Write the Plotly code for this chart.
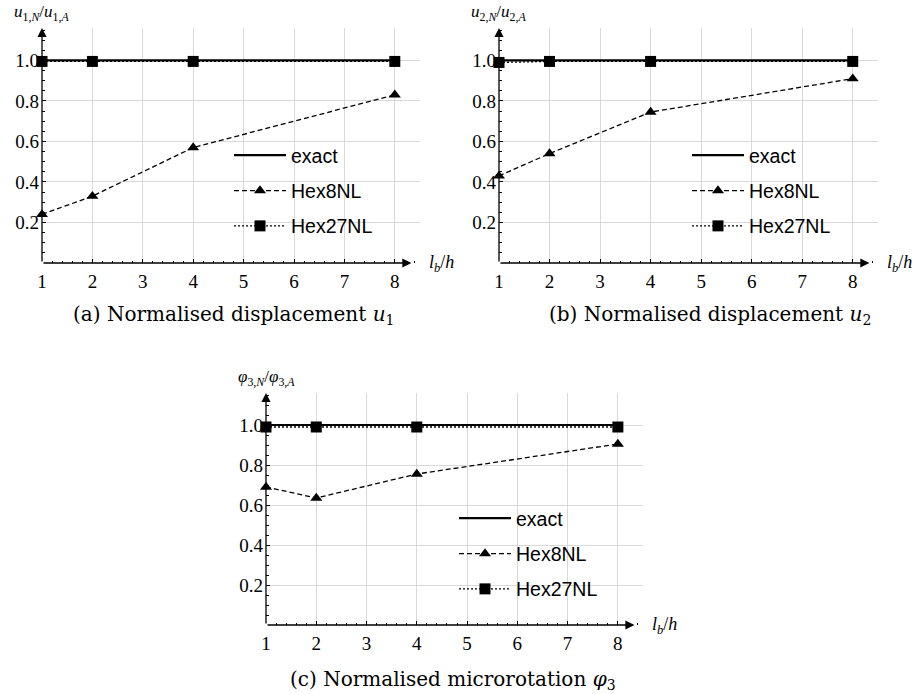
import plotly.graph_objects as go

lb_h = [1, 2, 4, 8]
exact_x = [1, 8]
exact_y = [1.0, 1.0]

hex8_u1 = [0.24, 0.33, 0.57, 0.83]
hex27_u1 = [0.995, 0.995, 0.995, 0.995]
hex8_u2 = [0.43, 0.54, 0.745, 0.91]
hex27_u2 = [0.99, 0.995, 0.995, 0.995]
hex8_phi = [0.69, 0.635, 0.755, 0.905]
hex27_phi = [0.99, 0.99, 0.99, 0.99]

x_ticks = [1, 2, 3, 4, 5, 6, 7, 8]
x_ticktext = ["1", "2", "3", "4", "5", "6", "7", "8"]
y_ticks = [0.2, 0.4, 0.6, 0.8, 1.0]
y_ticktext = ["0.2", "0.4", "0.6", "0.8", "1.0"]

series_names = ["exact", "Hex8NL", "Hex27NL"]
captions = [
    "(a) Normalised displacement <i>u</i><sub>1</sub>",
    "(b) Normalised displacement <i>u</i><sub>2</sub>",
    "(c) Normalised microrotation <i>φ</i><sub>3</sub>",
]
ylabels = [
    "<i>u</i><sub>1,<i>N</i></sub>/<i>u</i><sub>1,<i>A</i></sub>",
    "<i>u</i><sub>2,<i>N</i></sub>/<i>u</i><sub>2,<i>A</i></sub>",
    "<i>φ</i><sub>3,<i>N</i></sub>/<i>φ</i><sub>3,<i>A</i></sub>",
]
xlabel = "<i>l</i><sub><i>b</i></sub>/<i>h</i>"

SERIF = "Liberation Serif"
CAPSERIF = "DejaVu Serif"
SANS = "Liberation Sans"

W, H = 917, 694
# pixel boxes of the plot areas: (left, right, top, bottom)
boxes = [(42, 420, 28, 263), (499, 878, 28, 263), (266, 643, 393, 625)]
legend_pos = [(229, 136), (687, 136), (454, 499)]
caption_pos = [(233, 315), (710, 315), (453, 680)]

data_sets = [(hex8_u1, hex27_u1), (hex8_u2, hex27_u2), (hex8_phi, hex27_phi)]

fig = go.Figure()
for i, (h8, h27) in enumerate(data_sets):
    xa = "x" if i == 0 else f"x{i+1}"
    ya = "y" if i == 0 else f"y{i+1}"
    lg = "legend" if i == 0 else f"legend{i+1}"
    fig.add_trace(go.Scatter(
        x=exact_x, y=exact_y, mode="lines", name=series_names[0],
        line=dict(color="black", width=2.2), xaxis=xa, yaxis=ya,
        legend=lg, legendgroup=f"e{i}", cliponaxis=False))
    fig.add_trace(go.Scatter(
        x=lb_h, y=h8, mode="lines+markers", name=series_names[1],
        line=dict(color="black", width=1.3, dash="5px,3px"),
        marker=dict(symbol="triangle-up", size=10.5, color="black"),
        xaxis=xa, yaxis=ya, legend=lg, legendgroup=f"t{i}", cliponaxis=False))
    fig.add_trace(go.Scatter(
        x=lb_h, y=h27, mode="lines+markers", name=series_names[2],
        line=dict(color="black", width=1.3, dash="2px,2px"),
        marker=dict(symbol="square", size=11, color="black"),
        xaxis=xa, yaxis=ya, legend=lg, legendgroup=f"s{i}", cliponaxis=False))

layout = dict(
    width=W, height=H, margin=dict(l=0, r=0, t=0, b=0, autoexpand=False),
    paper_bgcolor="white", plot_bgcolor="white", showlegend=True,
    font=dict(family=SERIF, size=19, color="black"),
)
annotations = []
for i, (l, r, t, b) in enumerate(boxes):
    sx = "" if i == 0 else str(i + 1)
    layout[f"xaxis{sx}"] = dict(
        domain=[l / W, r / W], anchor=f"y{sx}", range=[1, 8.5],
        tickmode="array", tickvals=x_ticks, ticktext=x_ticktext,
        ticks="inside", ticklen=4, tickcolor="black", ticklabelstandoff=5,
        tickwidth=1, showgrid=True, gridcolor="#d9d9d9", gridwidth=1,
        zeroline=False, showline=False,
        minor=dict(ticks="inside", ticklen=2.5, dtick=0.2, tick0=1,
                   tickcolor="black", showgrid=False),
        tickfont=dict(family=SERIF, size=19, color="black"),
    )
    layout[f"yaxis{sx}"] = dict(
        domain=[1 - b / H, 1 - t / H], anchor=f"x{sx}", range=[0, 1.16],
        tickmode="array", tickvals=y_ticks, ticktext=y_ticktext,
        ticks="inside", ticklen=4, ticklabelstandoff=2,
        tickcolor="black", tickwidth=1, showgrid=True, gridcolor="#d9d9d9",
        gridwidth=1, zeroline=False, showline=False,
        minor=dict(ticks="inside", ticklen=2.5, dtick=0.05, tick0=0,
                   tickcolor="black", showgrid=False),
        tickfont=dict(family=SERIF, size=19, color="black"),
    )
    xr = "x" + sx
    yr = "y" + sx
    # axis arrows
    annotations.append(dict(x=8.33, y=0, ax=1, ay=0, xref=xr, yref=yr,
                            axref=xr, ayref=yr, text="", showarrow=True,
                            arrowhead=2, arrowsize=1.4, arrowwidth=1.3,
                            arrowcolor="black"))
    annotations.append(dict(x=1, y=1.16, ax=1, ay=0, xref=xr, yref=yr,
                            axref=xr, ayref=yr, text="", showarrow=True,
                            arrowhead=2, arrowsize=1.4, arrowwidth=1.3,
                            arrowcolor="black"))
    annotations.append(dict(x=1.0, y=0, xref=xr + " domain", yref=yr,
                            text=xlabel, showarrow=False, xanchor="left",
                            yanchor="middle", xshift=7,
                            font=dict(family=SERIF, size=18, color="black")))
    annotations.append(dict(x=0, y=1, xref=xr + " domain", yref=yr + " domain",
                            text=ylabels[i], showarrow=False, xanchor="center",
                            yanchor="bottom", yshift=2,
                            font=dict(family=SERIF, size=17, color="black")))
    cx, cy = caption_pos[i]
    annotations.append(dict(x=cx / W, y=1 - cy / H, xref="paper", yref="paper",
                            text=captions[i], showarrow=False,
                            xanchor="center", yanchor="middle",
                            font=dict(family=CAPSERIF, size=20, color="black")))
    lx, ly = legend_pos[i]
    lgname = "legend" if i == 0 else f"legend{i+1}"
    layout[lgname] = dict(
        x=lx / W, y=1 - ly / H, xanchor="left", yanchor="top",
        bgcolor="rgba(0,0,0,0)", itemwidth=52, tracegroupgap=7,
        traceorder="grouped",
        font=dict(family=SANS, size=19.5, color="black"),
    )

layout["annotations"] = annotations
fig.update_layout(**layout)
fig.write_html(
    "out.html",
    config={"displayModeBar": False, "responsive": False},
    post_script="document.body.style.margin='0';document.body.style.padding='0';",
)
